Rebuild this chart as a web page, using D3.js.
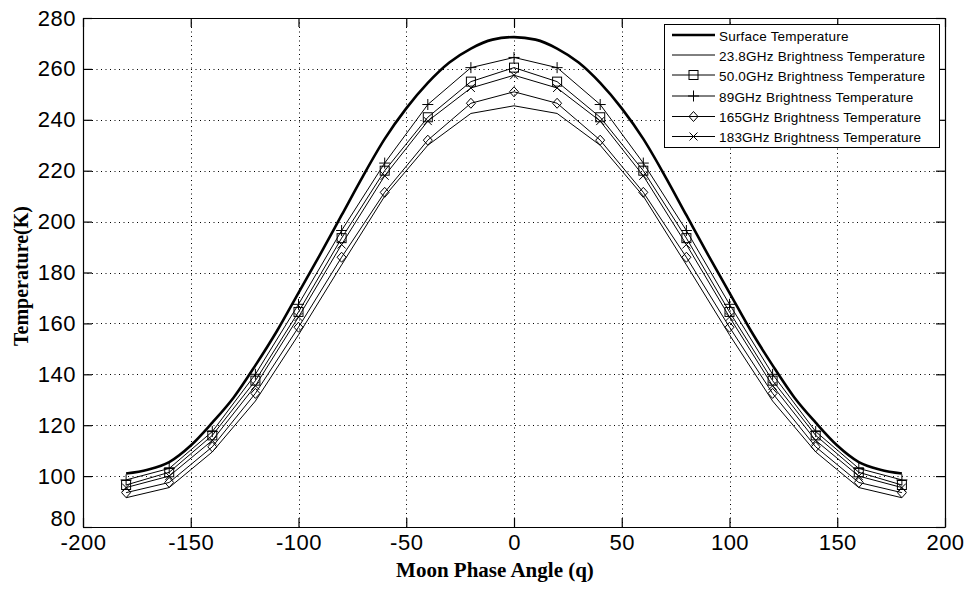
<!DOCTYPE html>
<html><head><meta charset="utf-8">
<script src="https://cdn.jsdelivr.net/npm/d3@7"></script>
<style>body{margin:0;background:#fff} svg{display:block}</style>
</head><body><svg id="c" width="964" height="589"></svg>
<script>
// ---- data ----
const phaseAngles = [-180,-160,-140,-120,-100,-80,-60,-40,-20,0,20,40,60,80,100,120,140,160,180];
const surfaceAngles = [-180,-170,-160,-150,-140,-130,-120,-110,-100,-90,-80,-70,-60,-50,-40,-30,-20,-10,0,10,20,30,40,50,60,70,80,90,100,110,120,130,140,150,160,170,180];
const surfaceTemp = [101,102.5,105.5,112,121,131,143.5,157,172,187,202.5,218,232.5,244.5,254.5,262.5,268,271.5,272.5,271.5,268,262.5,254.5,244.5,232.5,218,202.5,187,172,157,143.5,131,121,112,105.5,102.5,101];
const tb23_8 = [91.5,95.5,109.5,129.5,155.5,183,210,230,242.5,245.5,242.5,230,210,183,155.5,129.5,109.5,95.5,91.5];
const tb50_0 = [96.5,101.5,116,137.5,164.5,193.5,220,241,255,260.5,255,241,220,193.5,164.5,137.5,116,101.5,96.5];
const tb89   = [98.5,103,117.5,140,167.5,196.5,223,246,260.5,264.5,260.5,246,223,196.5,167.5,140,117.5,103,98.5];
const tb165  = [93.5,97.5,111.5,132.5,158.5,186,211.5,232,246.5,251,246.5,232,211.5,186,158.5,132.5,111.5,97.5,93.5];
const tb183  = [95.5,100,114,135.5,162.5,191,218,239.5,252.5,257.5,252.5,239.5,218,191,162.5,135.5,114,100,95.5];
const legendLabels = ["Surface Temperature","23.8GHz Brightness Temperature","50.0GHz Brightness Temperature","89GHz Brightness Temperature","165GHz Brightness Temperature","183GHz Brightness Temperature"];
const xTicks = [-200,-150,-100,-50,0,50,100,150,200];
const yTicks = [80,100,120,140,160,180,200,220,240,260,280];
const xTitle = "Moon Phase Angle (q)";
const yTitle = "Temperature(K)";

// ---- layout ----
const L = 83, R = 945, T = 18, B = 527;
const svg = d3.select("#c");
const x = d3.scaleLinear().domain([-200,200]).range([L,R]);
const y = d3.scaleLinear().domain([80,280]).range([B,T]);
const tickFont = "'Liberation Sans', Arial, sans-serif";
const fmt = d => String(d);

// grid
const grid = svg.append("g").attr("stroke","#000").attr("stroke-width",1).attr("stroke-dasharray","1,3.5");
grid.selectAll("line.gx").data(xTicks.slice(1,-1)).join("line")
  .attr("x1",d=>Math.round(x(d))+0.5).attr("x2",d=>Math.round(x(d))+0.5).attr("y1",T).attr("y2",B);
grid.selectAll("line.gy").data(yTicks.slice(1,-1)).join("line")
  .attr("y1",d=>Math.round(y(d))+0.5).attr("y2",d=>Math.round(y(d))+0.5).attr("x1",L).attr("x2",R);

// axes
function styleAxis(g){
  g.select(".domain").attr("stroke","#000").attr("stroke-width",1.2);
  g.selectAll(".tick line").attr("stroke","#000").attr("stroke-width",1.2);
  g.selectAll("text").attr("fill","#000").style("font-family",tickFont).style("font-size","22px").style("letter-spacing","0.5px");
}
svg.append("g").attr("transform",`translate(0,${B})`)
  .call(d3.axisBottom(x).tickValues(xTicks).tickFormat(fmt).tickSize(-9).tickSizeOuter(0).tickPadding(7)).call(styleAxis);
const yAx = svg.append("g").attr("transform",`translate(${L},0)`)
  .call(d3.axisLeft(y).tickValues(yTicks).tickFormat(fmt).tickSize(-9).tickSizeOuter(0).tickPadding(7)).call(styleAxis);
// lift the lowest label slightly so it just sits above the "-200" label
yAx.selectAll(".tick").filter(d=>d===yTicks[0]).select("text").attr("dy","-0.05em");
svg.append("g").attr("transform",`translate(0,${T})`)
  .call(d3.axisTop(x).tickValues(xTicks).tickSize(-9).tickSizeOuter(0).tickFormat("")).call(styleAxis);
svg.append("g").attr("transform",`translate(${R},0)`)
  .call(d3.axisRight(y).tickValues(yTicks).tickSize(-9).tickSizeOuter(0).tickFormat("")).call(styleAxis);

// markers
function marker(g, type, cx, cy){
  if(type==="square") g.append("rect").attr("x",cx-4.5).attr("y",cy-4.5).attr("width",9).attr("height",9);
  else if(type==="plus") g.append("path").attr("d",`M${cx-5.5},${cy}H${cx+5.5}M${cx},${cy-5.5}V${cy+5.5}`);
  else if(type==="diamond") g.append("path").attr("d",`M${cx},${cy-5}L${cx+4.5},${cy}L${cx},${cy+5}L${cx-4.5},${cy}Z`);
  else if(type==="x") g.append("path").attr("d",`M${cx-4},${cy-4}L${cx+4},${cy+4}M${cx-4},${cy+4}L${cx+4},${cy-4}`);
}

const series = [
  {vals: tb23_8, m: null},
  {vals: tb165, m: "diamond"},
  {vals: tb183, m: "x"},
  {vals: tb50_0, m: "square"},
  {vals: tb89, m: "plus"},
];
const line = d3.line().x(d=>x(d[0])).y(d=>y(d[1]));
const plot = svg.append("g");
series.forEach(s=>{
  const pts = phaseAngles.map((a,i)=>[a,s.vals[i]]);
  plot.append("path").attr("d",line(pts)).attr("fill","none").attr("stroke","#000").attr("stroke-width",1);
  if(s.m){
    const mg = plot.append("g").attr("fill","none").attr("stroke","#000").attr("stroke-width",1);
    pts.forEach(p=>marker(mg,s.m,x(p[0]),y(p[1])));
  }
});
const sPts = surfaceAngles.map((a,i)=>[a,surfaceTemp[i]]);
plot.append("path").attr("d",d3.line().x(d=>x(d[0])).y(d=>y(d[1])).curve(d3.curveMonotoneX)(sPts))
  .attr("fill","none").attr("stroke","#000").attr("stroke-width",2.6);

// legend
const lg = svg.append("g");
lg.append("rect").attr("x",664.5).attr("y",24.5).attr("width",275).attr("height",123).attr("fill","#fff").attr("stroke","#000").attr("stroke-width",1);
const legTypes = [null,null,"square","plus","diamond","x"];
const rowY = [35,55,75,96,116.5,136.5];
legendLabels.forEach((lab,i)=>{
  const yy = rowY[i];
  lg.append("line").attr("x1",672).attr("x2",715).attr("y1",yy).attr("y2",yy).attr("stroke","#000").attr("stroke-width",i===0?2.6:1);
  if(legTypes[i]){
    const mg = lg.append("g").attr("fill","none").attr("stroke","#000").attr("stroke-width",1);
    marker(mg,legTypes[i],693.5,yy);
  }
  lg.append("text").attr("x",719).attr("y",yy+5.5).text(lab)
    .style("font-family",tickFont).style("font-size","13.5px").style("letter-spacing","0.2px").attr("fill","#000");
});

// titles
svg.append("text").attr("x",495).attr("y",577).attr("text-anchor","middle").text(xTitle)
  .style("font-family","'Liberation Serif','Times New Roman',serif").style("font-weight","bold").style("font-size","21px");
svg.append("text").attr("transform","translate(28,276) rotate(-90)").attr("text-anchor","middle").text(yTitle)
  .style("font-family","'Liberation Serif','Times New Roman',serif").style("font-weight","bold").style("font-size","20px");
</script></body></html>
